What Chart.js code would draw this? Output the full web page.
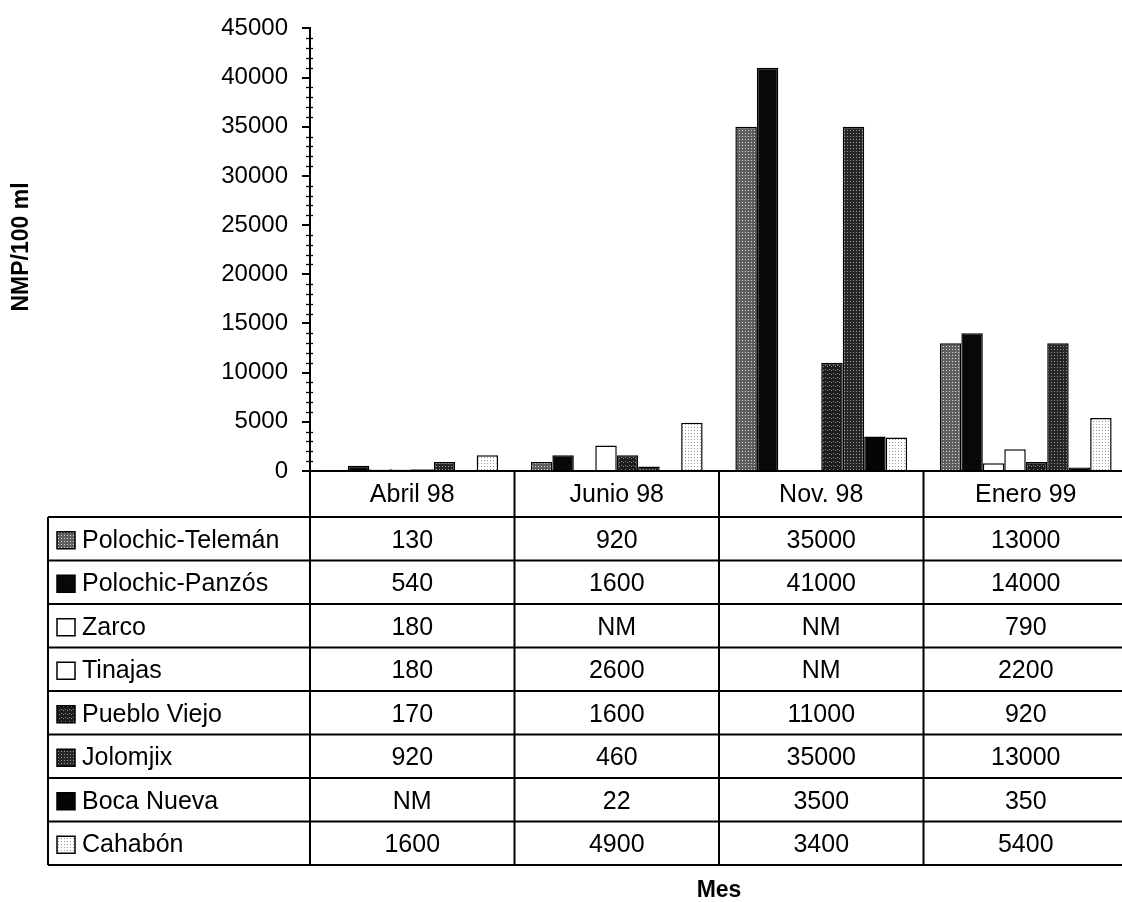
<!DOCTYPE html>
<html><head><meta charset="utf-8">
<script src="https://cdn.jsdelivr.net/npm/chart.js@4.4.1/dist/chart.umd.min.js"></script>
<style>html,body{margin:0;padding:0;background:#fff;overflow:hidden;}canvas{display:block;}</style>
</head><body>
<canvas id="c" width="1130" height="902"></canvas>
<script>
const categories = ['Abril 98', 'Junio 98', 'Nov. 98', 'Enero 99'];
const seriesNames = ['Polochic-Telemán', 'Polochic-Panzós', 'Zarco', 'Tinajas', 'Pueblo Viejo', 'Jolomjix', 'Boca Nueva', 'Cahabón'];
// null = NM (no medido)
const polochicTeleman = [130, 920, 35000, 13000];
const polochicPanzos  = [540, 1600, 41000, 14000];
const zarco           = [180, null, null, 790];
const tinajas         = [180, 2600, null, 2200];
const puebloViejo     = [170, 1600, 11000, 920];
const jolomjix        = [920, 460, 35000, 13000];
const bocaNueva       = [null, 22, 3500, 350];
const cahabon         = [1600, 4900, 3400, 5400];
const yTicks = [0, 5000, 10000, 15000, 20000, 25000, 30000, 35000, 40000, 45000];

const seriesValues = [polochicTeleman, polochicPanzos, zarco, tinajas, puebloViejo, jolomjix, bocaNueva, cahabon];

function makePattern(bg, dot, size, pts) {
  const c = document.createElement('canvas');
  c.width = size; c.height = size;
  const g = c.getContext('2d');
  g.fillStyle = bg; g.fillRect(0, 0, size, size);
  g.fillStyle = dot;
  pts.forEach(p => g.fillRect(p[0], p[1], 1, 1));
  return g.createPattern(c, 'repeat');
}
const ctx0 = document.getElementById('c').getContext('2d');
const fills = [
  makePattern('#5e5e5e', '#d8d8d8', 3, [[1, 1]]),
  '#080808',
  '#ffffff',
  '#ffffff',
  makePattern('#1c1c1c', '#8a8a8a', 4, [[1, 1], [3, 2]]),
  makePattern('#262626', '#9a9a9a', 3, [[1, 1]]),
  '#050505',
  makePattern('#ffffff', '#9a9a9a', 3, [[1, 1]])
];

const FONT = "'Liberation Sans', Arial, sans-serif";

const tablePlugin = {
  id: 'tablePlugin',
  afterDraw(chart) {
    const ctx = chart.ctx;
    const x = chart.scales.x, y = chart.scales.y;
    const area = chart.chartArea;
    const half = (x.getPixelForValue(1) - x.getPixelForValue(0)) / 2;
    const axisY = y.getPixelForValue(0);
    const tableLeft = 48;
    const headerBottom = 517;
    const rowH = 43.5;
    const tableBottom = headerBottom + rowH * seriesNames.length;
    ctx.save();
    ctx.strokeStyle = '#000';
    // minor ticks on y axis
    ctx.lineWidth = 1.3;
    for (let v = 1000; v < 45000; v += 1000) {
      if (v % 5000 === 0) continue;
      const py = Math.round(y.getPixelForValue(v)) + 0.5;
      ctx.beginPath(); ctx.moveTo(area.left - 4, py); ctx.lineTo(area.left + 3, py); ctx.stroke();
    }
    ctx.lineWidth = 2;
    // x axis line
    ctx.beginPath(); ctx.moveTo(area.left, axisY); ctx.lineTo(area.right, axisY); ctx.stroke();
    // horizontal table lines
    for (let k = 0; k <= seriesNames.length; k++) {
      const yy = headerBottom + rowH * k;
      ctx.beginPath(); ctx.moveTo(tableLeft, yy); ctx.lineTo(area.right, yy); ctx.stroke();
    }
    // vertical lines
    ctx.beginPath(); ctx.moveTo(tableLeft, headerBottom); ctx.lineTo(tableLeft, tableBottom); ctx.stroke();
    ctx.beginPath(); ctx.moveTo(area.left, axisY); ctx.lineTo(area.left, tableBottom); ctx.stroke();
    for (let i = 1; i < categories.length; i++) {
      const bx = x.getPixelForValue(i) - half;
      ctx.beginPath(); ctx.moveTo(bx, axisY - 1); ctx.lineTo(bx, tableBottom); ctx.stroke();
    }
    // header text
    ctx.fillStyle = '#000';
    ctx.font = '25px ' + FONT;
    ctx.textAlign = 'center';
    ctx.textBaseline = 'middle';
    categories.forEach((c, i) => {
      ctx.fillText(c, x.getPixelForValue(i), (axisY + headerBottom) / 2 + 1);
    });
    // rows
    seriesNames.forEach((name, r) => {
      const cy = headerBottom + rowH * (r + 0.5) + 2;
      // swatch
      ctx.fillStyle = fills[r];
      ctx.fillRect(57, cy - 9, 18, 17);
      ctx.lineWidth = 1.5;
      ctx.strokeRect(57, cy - 9, 18, 17);
      ctx.lineWidth = 2;
      ctx.fillStyle = '#000';
      ctx.textAlign = 'left';
      ctx.fillText(name, 82, cy);
      ctx.textAlign = 'center';
      seriesValues[r].forEach((v, i) => {
        ctx.fillText(v === null ? 'NM' : String(v), x.getPixelForValue(i), cy);
      });
    });
    // axis titles
    ctx.font = 'bold 23px ' + FONT;
    ctx.fillText('Mes', (area.left + area.right) / 2, 891);
    ctx.save();
    ctx.translate(22, 247);
    ctx.rotate(-Math.PI / 2);
    ctx.fillText('NMP/100 ml', 0, 0);
    ctx.restore();
    ctx.restore();
  }
};

new Chart(ctx0, {
  type: 'bar',
  data: {
    labels: categories,
    datasets: seriesNames.map((n, i) => ({
      label: n,
      data: seriesValues[i],
      backgroundColor: fills[i],
      borderColor: '#000',
      borderWidth: 1.5,
      borderSkipped: 'bottom'
    }))
  },
  options: {
    responsive: false,
    animation: false,
    devicePixelRatio: 1,
    categoryPercentage: 0.84,
    barPercentage: 1.0,
    layout: { padding: { left: 0, right: 2, top: 23, bottom: 431 } },
    plugins: { legend: { display: false }, tooltip: { enabled: false } },
    scales: {
      x: { display: false },
      y: {
        min: 0, max: 45000,
        afterFit(scale) { scale.width = 310; },
        afterBuildTicks(scale) { scale.ticks = yTicks.map(v => ({ value: v })); },
        ticks: { color: '#000', font: { size: 24, family: FONT }, padding: 14, callback: (v) => String(v) },
        grid: { drawOnChartArea: false, drawTicks: true, tickLength: 8, color: '#000', lineWidth: 2 },
        border: { display: true, color: '#000', width: 2 }
      }
    }
  },
  plugins: [tablePlugin]
});
</script>
</body></html>
